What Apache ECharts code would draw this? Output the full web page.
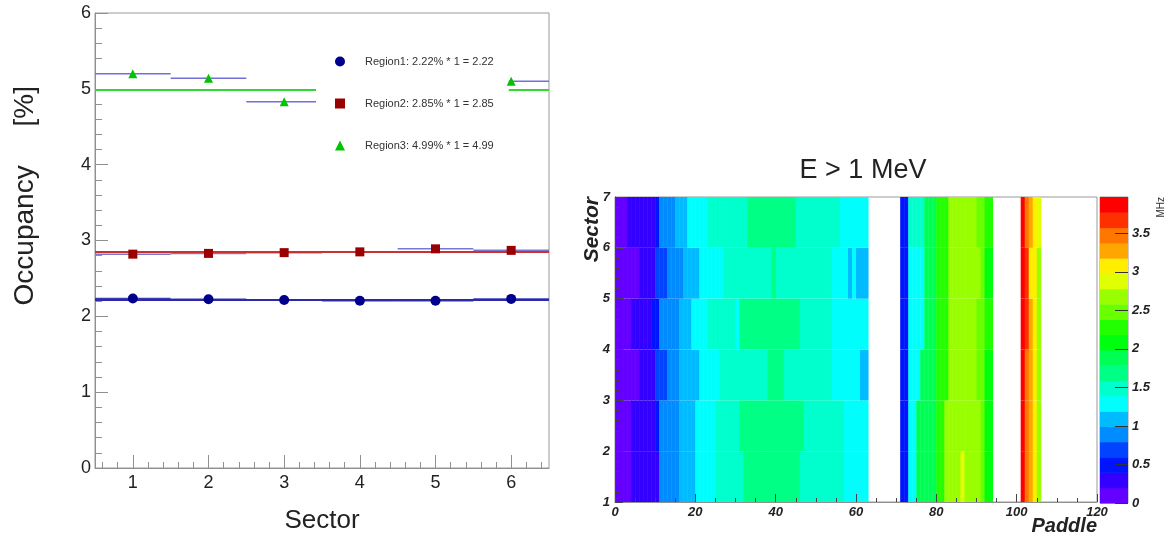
<!DOCTYPE html>
<html><head><meta charset="utf-8">
<script src="https://cdn.jsdelivr.net/npm/echarts@6/dist/echarts.min.js"></script>
<style>html,body{margin:0;padding:0;background:#fff}#c{width:1169px;height:537px}</style>
</head><body><div id="c"></div>
<script>
// ---------- Left panel data ----------
const sectors = [1, 2, 3, 4, 5, 6];
const region1 = [2.235, 2.225, 2.215, 2.205, 2.205, 2.23];
const region2 = [2.82, 2.83, 2.84, 2.85, 2.89, 2.87];
const region3 = [5.20, 5.14, 4.83, null, null, 5.10];
const fitValues = [2.22, 2.85, 4.99];
const legendNames = ['Region1: 2.22% * 1 = 2.22', 'Region2: 2.85% * 1 = 2.85', 'Region3: 4.99% * 1 = 4.99'];
const yTicksLeft = [0, 1, 2, 3, 4, 5, 6];

// ---------- Right panel data (rate in MHz per paddle, sectors 1..6) ----------
const _ = null;
const sector1 = [
 0.1,0.1,0.1,0.1,0.3,0.3,0.3,0.3,0.3,0.3,
 0.3,0.9,0.9,0.9,0.9,0.9,1.1,1.1,1.1,1.1,
 1.3,1.3,1.3,1.3,1.3,1.5,1.5,1.5,1.5,1.5,
 1.5,1.5,1.7,1.7,1.7,1.7,1.7,1.7,1.7,1.7,
 1.7,1.7,1.7,1.7,1.7,1.7,1.5,1.5,1.5,1.5,
 1.5,1.5,1.5,1.5,1.5,1.5,1.5,1.3,1.3,1.3,
 1.3,1.3,1.3,_,_,_,_,_,_,_,
 _,0.5,0.5,1.3,1.3,1.9,1.9,1.9,1.9,1.9,
 2.3,2.3,2.7,2.7,2.7,2.7,2.9,2.7,2.7,2.7,
 2.7,2.5,2.1,2.1,_,_,_,_,_,_,
 _,3.9,3.5,3.3,3.1,2.7,_,_,_,_,
 _,_,_,_,_,_,_,_,_,_];
const sector2 = [
 0.1,0.1,0.1,0.1,0.3,0.3,0.3,0.3,0.3,0.3,
 0.5,0.9,0.9,0.9,0.9,0.9,1.1,1.1,1.1,1.1,
 1.3,1.3,1.3,1.3,1.3,1.5,1.5,1.5,1.5,1.5,
 1.5,1.7,1.7,1.7,1.7,1.7,1.7,1.7,1.7,1.7,
 1.7,1.7,1.7,1.7,1.7,1.7,1.7,1.5,1.5,1.5,
 1.5,1.5,1.5,1.5,1.5,1.5,1.5,1.3,1.3,1.3,
 1.3,1.3,1.3,_,_,_,_,_,_,_,
 _,0.5,0.5,1.3,1.3,1.9,1.9,1.9,1.9,1.9,
 2.3,2.3,2.7,2.7,2.7,2.7,2.7,2.7,2.7,2.7,
 2.7,2.5,2.1,2.1,_,_,_,_,_,_,
 _,3.9,3.5,3.3,3.1,2.7,_,_,_,_,
 _,_,_,_,_,_,_,_,_,_];
const sector3 = [
 0.1,0.1,0.1,0.1,0.1,0.1,0.3,0.3,0.3,0.3,
 0.7,0.7,0.7,0.9,0.9,0.9,1.1,1.1,1.1,1.1,
 1.1,1.3,1.3,1.3,1.3,1.3,1.5,1.5,1.5,1.5,
 1.5,1.5,1.5,1.5,1.5,1.5,1.5,1.5,1.7,1.7,
 1.7,1.7,1.5,1.5,1.5,1.5,1.5,1.5,1.5,1.5,
 1.5,1.5,1.5,1.5,1.3,1.3,1.3,1.3,1.3,1.3,
 1.3,1.1,1.1,_,_,_,_,_,_,_,
 _,0.5,0.5,1.3,1.3,1.3,1.9,1.9,1.9,1.9,
 2.3,2.3,2.3,2.7,2.7,2.7,2.7,2.7,2.7,2.7,
 2.5,2.5,2.1,2.1,_,_,_,_,_,_,
 _,3.9,3.5,3.3,3.1,2.7,_,_,_,_,
 _,_,_,_,_,_,_,_,_,_];
const sector4 = [
 0.1,0.1,0.1,0.1,0.3,0.3,0.3,0.3,0.3,0.5,
 0.5,0.9,0.9,0.9,0.9,0.9,1.1,1.1,1.1,1.3,
 1.3,1.3,1.3,1.5,1.5,1.5,1.5,1.5,1.5,1.5,
 1.3,1.7,1.7,1.7,1.7,1.7,1.7,1.7,1.7,1.7,
 1.7,1.7,1.7,1.7,1.7,1.7,1.5,1.5,1.5,1.5,
 1.5,1.5,1.5,1.5,1.3,1.3,1.3,1.3,1.3,1.3,
 1.3,1.3,1.3,_,_,_,_,_,_,_,
 _,0.5,0.5,1.3,1.3,1.3,1.3,1.9,1.9,1.9,
 2.3,2.3,2.3,2.7,2.7,2.7,2.7,2.7,2.7,2.7,
 2.5,2.5,2.3,2.3,_,_,_,_,_,_,
 _,3.9,3.7,3.3,3.1,2.7,_,_,_,_,
 _,_,_,_,_,_,_,_,_,_];
const sector5 = [
 0.1,0.1,0.1,0.1,0.1,0.1,0.3,0.3,0.3,0.3,
 0.7,0.7,0.7,0.9,0.9,0.9,0.9,1.1,1.1,1.1,
 1.1,1.3,1.3,1.3,1.3,1.3,1.3,1.5,1.5,1.5,
 1.5,1.5,1.5,1.5,1.5,1.5,1.5,1.5,1.5,1.7,
 1.5,1.5,1.5,1.5,1.5,1.5,1.5,1.5,1.5,1.5,
 1.5,1.5,1.5,1.5,1.3,1.3,1.3,1.3,1.1,1.3,
 1.1,1.1,1.1,_,_,_,_,_,_,_,
 _,0.5,0.5,1.3,1.3,1.3,1.3,1.9,1.9,1.9,
 2.3,2.3,2.3,2.7,2.7,2.7,2.7,2.7,2.7,2.7,
 2.7,2.5,2.1,2.1,_,_,_,_,_,_,
 _,3.9,3.7,3.1,3.1,2.7,_,_,_,_,
 _,_,_,_,_,_,_,_,_,_];
const sector6 = [
 0.1,0.1,0.1,0.3,0.3,0.3,0.3,0.3,0.3,0.3,
 0.5,0.9,0.9,0.9,0.9,1.1,1.1,1.1,1.3,1.3,
 1.3,1.3,1.3,1.5,1.5,1.5,1.5,1.5,1.5,1.5,
 1.5,1.5,1.5,1.7,1.7,1.7,1.7,1.7,1.7,1.7,
 1.7,1.7,1.7,1.7,1.7,1.5,1.5,1.5,1.5,1.5,
 1.5,1.5,1.5,1.5,1.5,1.5,1.3,1.3,1.3,1.3,
 1.3,1.3,1.3,_,_,_,_,_,_,_,
 _,0.5,0.5,1.5,1.5,1.5,1.5,1.9,1.9,1.9,
 2.3,2.3,2.3,2.7,2.7,2.7,2.7,2.7,2.7,2.7,
 2.5,2.5,2.3,2.3,_,_,_,_,_,_,
 _,3.9,3.5,3.3,3.1,2.9,_,_,_,_,
 _,_,_,_,_,_,_,_,_,_];
const sectorRows = [sector1, sector2, sector3, sector4, sector5, sector6];
const paddleTicks = [0, 20, 40, 60, 80, 100, 120];
const sectorTicks = [1, 2, 3, 4, 5, 6, 7];
const colorTicks = [0, 0.5, 1, 1.5, 2, 2.5, 3, 3.5];
const zMax = 3.97;
// ROOT "pretty" palette, 20 contour colours (violet -> red)
const palette = ['#6300ff','#3300ff','#0014ff','#0044ff','#008bff','#00bbff','#00fffc','#00ffcc','#00ff85','#00ff55',
                 '#00ff0e','#22ff00','#69ff00','#99ff00','#e0ff00','#ffee00','#ffa700','#ff7700','#ff3000','#ff0000'];

// ---------- build ----------
const FONT = 'Liberation Sans, Arial, Helvetica, sans-serif';
const nC = palette.length;
function colorFor(v) { let j = Math.floor(v / zMax * nC); if (j < 0) j = 0; if (j >= nC) j = nC - 1; return palette[j]; }
const heatData = [];
sectorRows.forEach((row, si) => row.forEach((v, p) => { if (v !== null) heatData.push([p, sectors[si], v]); }));
const minorX = [];
for (let k = 3; k < 33; k++) { if (k % 5 !== 0) minorX.push(k / 5); }

const markers = [
  {name: legendNames[0], vals: region1, symbol: 'circle', size: 10, color: '#00008c', fit: '#2b2ba8', bar: '#3a3ab8'},
  {name: legendNames[1], vals: region2, symbol: 'rect', size: 9, color: '#9a0000', fit: '#c83232', bar: '#7878d0'},
  {name: legendNames[2], vals: region3, symbol: 'triangle', size: 9, color: '#00c400', fit: '#33d633', bar: '#7070d8'}
];

const series = [];
markers.forEach((m, i) => {
  const pts = sectors.map((s, k) => [s, m.vals[k]]).filter(d => d[1] !== null);
  series.push({
    type: 'custom', xAxisIndex: 0, yAxisIndex: 0, z: 2, silent: true,
    data: pts,
    renderItem: (params, api) => {
      const a = api.coord([api.value(0) - 0.5, api.value(1)]);
      const b = api.coord([api.value(0) + 0.5, api.value(1)]);
      return {type: 'line', shape: {x1: a[0], y1: a[1], x2: b[0], y2: b[1]}, style: {stroke: m.bar, lineWidth: 1.5}};
    },
    markLine: {silent: true, symbol: 'none', z: 3, label: {show: false},
      lineStyle: {color: m.fit, width: 2, type: 'solid'}, data: [{yAxis: fitValues[i]}]}
  });
  series.push({
    type: 'scatter', name: m.name, xAxisIndex: 0, yAxisIndex: 0, z: 9,
    symbol: m.symbol, symbolSize: m.size, itemStyle: {color: m.color, opacity: 1}, data: pts
  });
});
series.push({
  type: 'custom', xAxisIndex: 2, yAxisIndex: 1, silent: true, z: 2,
  data: heatData,
  renderItem: (params, api) => {
    const a = api.coord([api.value(0), api.value(1) + 1]);
    const b = api.coord([api.value(0) + 1, api.value(1)]);
    return {type: 'rect', shape: {x: a[0], y: a[1], width: b[0] - a[0] + 0.5, height: b[1] - a[1]}, style: {fill: colorFor(api.value(2))}};
  }
});
series.push({
  type: 'custom', xAxisIndex: 3, yAxisIndex: 2, silent: true, z: 2,
  data: palette.map((c, j) => [j]),
  renderItem: (params, api) => {
    const j = api.value(0);
    const a = api.coord([0, (j + 1) * zMax / nC]);
    const b = api.coord([1, j * zMax / nC]);
    return {type: 'rect', shape: {x: a[0], y: a[1], width: b[0] - a[0], height: b[1] - a[1] + 0.5}, style: {fill: palette[j]}};
  }
});

const greyLine = {onZero: false, lineStyle: {color: '#909090', width: 1}};
const option = {
  animation: false,
  backgroundColor: '#ffffff',
  textStyle: {fontFamily: FONT},
  title: {text: 'E > 1 MeV', left: 858, top: 152, textAlign: 'center',
    textStyle: {fontFamily: FONT, fontSize: 27, fontWeight: 'normal', color: '#222'}},
  legend: {
    orient: 'vertical', left: 316, top: 40, z: 8, selectedMode: false,
    backgroundColor: '#ffffff', padding: [16, 15, 15, 19],
    itemWidth: 10, itemHeight: 10, itemGap: 31,
    textStyle: {fontFamily: FONT, fontSize: 11, color: '#333', padding: [0, 0, 0, 15]},
    data: legendNames
  },
  grid: [
    {left: 95, top: 13, width: 454, height: 455, show: true, borderColor: '#999', borderWidth: 1, outerBoundsMode: 'none', containLabel: false},
    {left: 615, top: 197, width: 482, height: 305, show: true, borderColor: '#999', borderWidth: 1, outerBoundsMode: 'none', containLabel: false},
    {left: 1100, top: 197, width: 28, height: 306, show: true, borderColor: '#999', borderWidth: 1, outerBoundsMode: 'none', containLabel: false}
  ],
  xAxis: [
    {type: 'value', gridIndex: 0, min: 0.5, max: 6.5, position: 'bottom',
      name: 'Sector', nameLocation: 'middle', nameGap: 40, nameMoveOverlap: false,
      nameTextStyle: {fontFamily: FONT, fontSize: 26, color: '#222'},
      axisLine: greyLine, splitLine: {show: false},
      axisTick: {inside: true, length: 13, customValues: sectors, lineStyle: {color: '#909090'}},
      axisLabel: {customValues: sectors, fontSize: 18, color: '#222', margin: 6, fontFamily: FONT}},
    {type: 'value', gridIndex: 0, min: 0.5, max: 6.5, position: 'bottom',
      axisLine: {show: false, onZero: false}, splitLine: {show: false}, axisLabel: {show: false},
      axisTick: {inside: true, length: 6, customValues: minorX, lineStyle: {color: '#909090'}}},
    {type: 'value', gridIndex: 1, min: 0, max: 120, interval: 20, position: 'bottom', z: 10,
      name: 'Paddle', nameLocation: 'end', nameGap: 0, nameMoveOverlap: false,
      nameTextStyle: {fontFamily: FONT, fontSize: 20, fontWeight: 'bold', fontStyle: 'italic', color: '#222', align: 'right', verticalAlign: 'top', padding: [14, 0, 0, 0]},
      axisLine: greyLine, splitLine: {show: false},
      axisTick: {inside: true, length: 8, lineStyle: {color: '#444'}},
      minorTick: {show: true, splitNumber: 4, length: 4, lineStyle: {color: '#444'}},
      axisLabel: {customValues: paddleTicks, fontSize: 13, fontWeight: 'bold', fontStyle: 'italic', color: '#222', margin: 4, fontFamily: FONT}},
    {type: 'value', gridIndex: 2, min: 0, max: 1, show: false}
  ],
  yAxis: [
    {type: 'value', gridIndex: 0, min: 0, max: 6, interval: 1,
      name: 'Occupancy     [%]', nameLocation: 'end', nameGap: -73, nameRotate: 90, nameMoveOverlap: false,
      nameTextStyle: {fontFamily: FONT, fontSize: 28, color: '#222', align: 'right', verticalAlign: 'bottom', padding: [0, 0, 56, 0]},
      axisLine: {show: true, onZero: false, lineStyle: {color: '#909090'}}, splitLine: {show: false},
      axisTick: {inside: true, length: 13, lineStyle: {color: '#909090'}},
      minorTick: {show: true, splitNumber: 5, length: 7, lineStyle: {color: '#909090'}},
      axisLabel: {customValues: yTicksLeft, fontSize: 18, color: '#222', margin: 4, fontFamily: FONT}},
    {type: 'value', gridIndex: 1, min: 1, max: 7, interval: 1, z: 10,
      name: 'Sector', nameLocation: 'end', nameGap: 0, nameRotate: 90, nameMoveOverlap: false,
      nameTextStyle: {fontFamily: FONT, fontSize: 21, fontWeight: 'bold', fontStyle: 'italic', color: '#222', align: 'right', verticalAlign: 'bottom', padding: [0, 0, 12, 0]},
      axisLine: {show: true, onZero: false, lineStyle: {color: '#444'}}, splitLine: {show: false},
      axisTick: {inside: true, length: 8, lineStyle: {color: '#444'}},
      minorTick: {show: true, splitNumber: 5, length: 4, lineStyle: {color: '#444'}},
      axisLabel: {customValues: sectorTicks, fontSize: 13, fontWeight: 'bold', fontStyle: 'italic', color: '#222', margin: 5, fontFamily: FONT}},
    {type: 'value', gridIndex: 2, min: 0, max: zMax, position: 'right', z: 10,
      name: 'MHz', nameLocation: 'end', nameGap: 0, nameRotate: 90, nameMoveOverlap: false,
      nameTextStyle: {fontFamily: FONT, fontSize: 10, color: '#333', align: 'right', verticalAlign: 'top', padding: [28, 0, 0, 0]},
      axisLine: {show: false, onZero: false}, splitLine: {show: false},
      axisTick: {inside: true, length: 13, customValues: colorTicks, lineStyle: {color: '#333'}},
      axisLabel: {customValues: colorTicks, fontSize: 13, fontWeight: 'bold', fontStyle: 'italic', color: '#222', margin: 4, fontFamily: FONT}}
  ],
  series: series
};
const chart = echarts.init(document.getElementById('c'));
chart.setOption(option);
</script></body></html>
